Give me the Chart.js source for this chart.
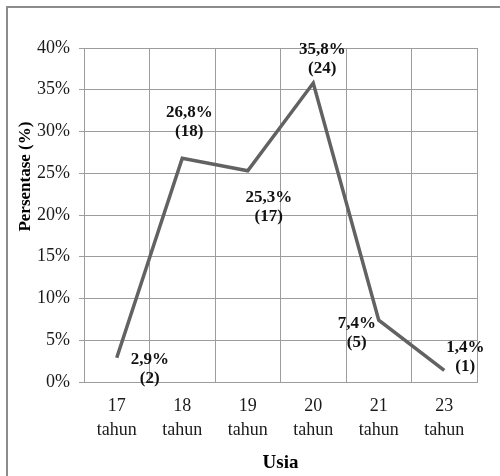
<!DOCTYPE html>
<html>
<head>
<meta charset="utf-8">
<script src="https://cdn.jsdelivr.net/npm/chart.js@4/dist/chart.umd.min.js"></script>
<style>
  html, body { margin: 0; padding: 0; background: #fff; }
  #wrap { position: relative; width: 500px; height: 476px; overflow: hidden; }
  #frame { position: absolute; left: 6px; top: 6px; width: 700px; height: 700px;
           border-top: 2px solid #8c8c8c; border-left: 2px solid #8c8c8c; box-sizing: border-box; }
  canvas { position: absolute; left: 0; top: 0; }
</style>
</head>
<body>
<div id="wrap">
  <div id="frame"></div>
  <canvas id="c" width="500" height="476"></canvas>
</div>
<script>
// ---- data ----
const categories = [["17", "tahun"], ["18", "tahun"], ["19", "tahun"], ["20", "tahun"], ["21", "tahun"], ["23", "tahun"]];
const percentages = [2.9, 26.8, 25.3, 35.8, 7.4, 1.4];
const counts = [2, 18, 17, 24, 5, 1];
const percentText = ["2,9%", "26,8%", "25,3%", "35,8%", "7,4%", "1,4%"];
const yAxisTitle = "Persentase (%)";
const xAxisTitle = "Usia";

// ---- label placement (offsets from each point, px) ----
const labelOffsets = [[33, 11], [7, -36], [21, 36], [9, -24], [-22, 13], [21, -13]];

const serif = "'Liberation Serif', 'Times New Roman', serif";

const pointLabels = {
  id: 'pointLabels',
  afterDatasetsDraw(chart) {
    const ctx = chart.ctx;
    const meta = chart.getDatasetMeta(0);
    ctx.save();
    ctx.font = "bold 17px " + serif;
    ctx.fillStyle = "#111";
    ctx.textAlign = "center";
    ctx.textBaseline = "middle";
    meta.data.forEach((pt, i) => {
      const cx = pt.x + labelOffsets[i][0];
      const cy = pt.y + labelOffsets[i][1];
      ctx.fillText(percentText[i], cx, cy - 9.5);
      ctx.fillText("(" + counts[i] + ")", cx, cy + 9.5);
    });
    ctx.restore();
  }
};

const yTitle = {
  id: 'yTitle',
  afterDraw(chart) {
    const ctx = chart.ctx;
    const a = chart.chartArea;
    ctx.save();
    ctx.font = "bold 17px " + serif;
    ctx.fillStyle = "#000";
    ctx.textAlign = "center";
    ctx.textBaseline = "middle";
    ctx.translate(a.left - 58, a.top + (a.bottom - a.top) * 0.385);
    ctx.rotate(-Math.PI / 2);
    ctx.fillText(yAxisTitle, 0, 0);
    ctx.restore();
  }
};

new Chart(document.getElementById('c'), {
  type: 'line',
  data: {
    labels: categories,
    datasets: [{
      data: percentages,
      borderColor: '#626262',
      borderWidth: 3.5,
      pointRadius: 0,
      pointHoverRadius: 0,
      tension: 0,
      fill: false
    }]
  },
  options: {
    responsive: false,
    animation: false,
    events: [],
    layout: { padding: { top: 48, right: 23, bottom: 0, left: 0 } },
    plugins: { legend: { display: false }, tooltip: { enabled: false } },
    scales: {
      x: {
        offset: true,
        grid: { offset: true, color: '#9c9c9c', lineWidth: 1, tickLength: 0 },
        border: { color: '#9c9c9c', width: 1 },
        ticks: { color: '#1a1a1a', font: { family: serif, size: 18, lineHeight: 1.3 }, padding: 13, maxRotation: 0, autoSkip: false },
        title: { display: true, text: xAxisTitle, color: '#000', font: { family: serif, size: 19, weight: 'bold' }, padding: { top: 4, bottom: 2 } },
        afterFit(s) { s.height = 94; }
      },
      y: {
        min: 0, max: 40,
        grid: { color: '#9c9c9c', lineWidth: 1, tickLength: 5 },
        border: { color: '#9c9c9c', width: 1 },
        ticks: { stepSize: 5, color: '#1a1a1a', font: { family: serif, size: 18 }, padding: 9,
                 callback: v => v + '%' },
        afterFit(s) { s.width = 84; }
      }
    }
  },
  plugins: [pointLabels, yTitle]
});
</script>
</body>
</html>
